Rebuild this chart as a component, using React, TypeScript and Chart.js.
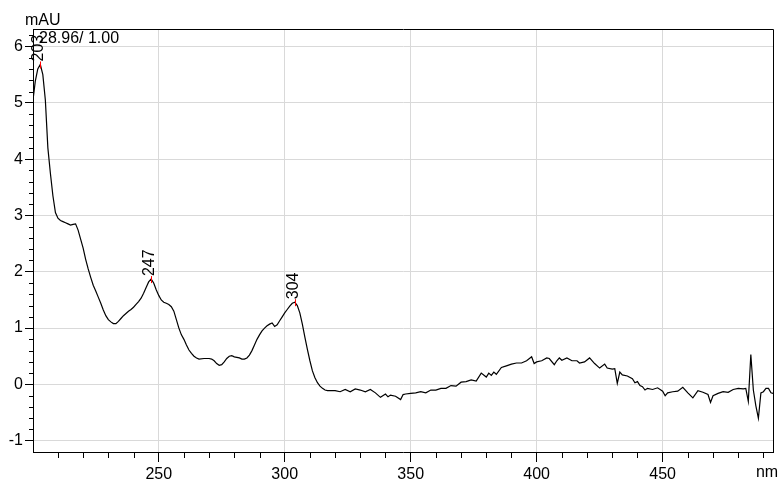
import { useEffect, useRef } from "react";
import { Chart, registerables } from "chart.js";

Chart.register(...registerables);

const wavelengths = [
  200.1, 201, 202, 203, 204, 205, 206, 207, 208, 209, 210, 211, 212, 213, 214, 215, 216, 217, 218, 219,
  220, 221, 222, 223, 224, 225, 226, 227, 228, 229, 230, 231, 232, 233, 234, 235, 236, 237, 238, 239,
  240, 241, 242, 243, 244, 245, 246, 247, 248, 249, 250, 251, 252, 253, 254, 255, 256, 257, 258, 259,
  260, 261, 262, 263, 264, 265, 266, 268, 270, 271, 272, 273, 274, 275, 276, 277, 278, 279, 280, 282,
  283, 284, 285, 286, 287, 288, 289, 290, 291, 292, 293, 294, 295, 296, 297, 298, 299, 300, 301, 302,
  303, 304, 305, 306, 307, 308, 309, 310, 311, 312, 313, 314, 315, 316, 317, 318, 320, 322, 324, 326,
  328, 330, 332, 334, 336, 338, 340, 341, 342, 344, 346, 347, 348, 350, 352, 354, 356, 358, 360, 362,
  364, 366, 368, 370, 372, 374, 376, 378, 380, 381, 382, 383, 384, 386, 388, 390, 392, 394, 396, 398,
  399, 400, 402, 404, 405, 407, 408, 409, 410, 412, 414, 416, 417, 419, 421, 423, 425, 427, 428, 430,
  431, 432, 433, 434, 436, 438, 439, 440, 441, 442, 443, 444, 446, 448, 450, 451, 452, 454, 456, 458,
  460, 462, 464, 466, 468, 469, 470, 472, 474, 476, 478, 480, 482, 483, 484, 485, 486, 487, 488, 489,
  490, 491, 492, 493, 493.8,
];

const absorbance = [
  5.05, 5.38, 5.6, 5.68, 5.5, 5.05, 4.2, 3.75, 3.35, 3.05, 2.95, 2.91, 2.89, 2.87, 2.85, 2.83, 2.84, 2.85, 2.74, 2.58,
  2.42, 2.22, 2.05, 1.9, 1.76, 1.66, 1.55, 1.44, 1.32, 1.22, 1.15, 1.11, 1.08, 1.08, 1.12, 1.17, 1.22, 1.26, 1.3, 1.33,
  1.37, 1.42, 1.47, 1.53, 1.62, 1.72, 1.82, 1.87, 1.8, 1.68, 1.58, 1.5, 1.46, 1.44, 1.42, 1.38, 1.3, 1.15, 1.0, 0.88,
  0.8, 0.7, 0.61, 0.55, 0.5, 0.47, 0.45, 0.46, 0.46, 0.45, 0.42, 0.37, 0.34, 0.35, 0.4, 0.46, 0.5, 0.51, 0.49, 0.47,
  0.45, 0.45, 0.47, 0.52, 0.6, 0.7, 0.8, 0.88, 0.95, 1.0, 1.04, 1.07, 1.09, 1.03, 1.06, 1.13, 1.2, 1.27, 1.33, 1.39,
  1.44, 1.46, 1.4, 1.27, 1.07, 0.84, 0.62, 0.42, 0.24, 0.12, 0.03, -0.03, -0.07, -0.1, -0.11, -0.11, -0.11, -0.13, -0.09, -0.13,
  -0.08, -0.1, -0.13, -0.09, -0.15, -0.23, -0.17, -0.22, -0.19, -0.21, -0.27, -0.18, -0.17, -0.16, -0.15, -0.13, -0.15, -0.1, -0.1, -0.07,
  -0.07, -0.02, -0.03, 0.04, 0.05, 0.08, 0.06, 0.2, 0.13, 0.2, 0.16, 0.22, 0.18, 0.3, 0.33, 0.36, 0.38, 0.38, 0.42, 0.49,
  0.37, 0.4, 0.42, 0.47, 0.46, 0.35, 0.42, 0.47, 0.43, 0.47, 0.42, 0.42, 0.38, 0.4, 0.47, 0.37, 0.29, 0.36, 0.29, 0.27,
  0.28, 0.02, 0.22, 0.17, 0.15, 0.1, 0.03, 0.05, -0.02, -0.04, -0.1, -0.07, -0.09, -0.06, -0.12, -0.2, -0.15, -0.13, -0.12, -0.05,
  -0.15, -0.24, -0.11, -0.14, -0.18, -0.32, -0.2, -0.16, -0.13, -0.14, -0.09, -0.07, -0.08, -0.07, -0.3, 0.53, -0.1, -0.38, -0.6, -0.15,
  -0.13, -0.07, -0.07, -0.15, -0.16,
];

const yTickValues = [-1, 0, 1, 2, 3, 4, 5, 6];
const xTickValues = [250, 300, 350, 400, 450];
const peakWavelengths = [203, 247, 304];
const peakLabels = ["203", "247", "304"];
const yUnit = "mAU";
const xUnit = "nm";
const headerText = "28.96/ 1.00";

const FONT = "'Liberation Sans', Arial, sans-serif";

export default function App() {
  const ref = useRef<HTMLCanvasElement | null>(null);

  useEffect(() => {
    if (!ref.current) return;
    const overlay = {
      id: "overlay",
      afterDraw(chart: any) {
        const { ctx, chartArea: a } = chart;
        const xs = chart.scales.x;
        const ys = chart.scales.y;
        ctx.save();
        ctx.strokeStyle = "#000";
        ctx.lineWidth = 1;
        ctx.beginPath();
        ctx.moveTo(Math.round(a.left) + 0.5, Math.round(a.top) + 0.5);
        ctx.lineTo(Math.round(a.right) + 0.5, Math.round(a.top) + 0.5);
        ctx.lineTo(Math.round(a.right) + 0.5, Math.round(a.bottom) + 0.5);
        ctx.stroke();
        ctx.beginPath();
        for (let i = -6; i <= 31; i++) {
          if (i % 5 === 0) continue;
          const v = i * 0.2;
          if (v < ys.min || v > ys.max) continue;
          const py = Math.round(ys.getPixelForValue(v)) + 0.5;
          ctx.moveTo(a.left - 4, py);
          ctx.lineTo(a.left, py);
        }
        for (let n = 210; n <= 490; n += 10) {
          if (n % 50 === 0) continue;
          const px = Math.round(xs.getPixelForValue(n)) + 0.5;
          ctx.moveTo(px, a.bottom);
          ctx.lineTo(px, a.bottom + 6);
        }
        ctx.stroke();
        ctx.fillStyle = "#000";
        ctx.font = "16px " + FONT;
        ctx.textAlign = "left";
        ctx.textBaseline = "alphabetic";
        ctx.fillText(yUnit, 25, 25);
        ctx.fillText(headerText, 39, 43);
        ctx.textAlign = "center";
        ctx.fillText(xUnit, 767, 477);
        peakWavelengths.forEach((w, i) => {
          const idx = wavelengths.indexOf(w);
          const px = xs.getPixelForValue(w);
          const py = ys.getPixelForValue(absorbance[idx]);
          ctx.strokeStyle = "#ff0000";
          ctx.beginPath();
          ctx.moveTo(Math.round(px) + 0.5, py - 3);
          ctx.lineTo(Math.round(px) + 0.5, py + 4);
          ctx.stroke();
          ctx.save();
          ctx.translate(px + 3, py - 3);
          ctx.rotate(-Math.PI / 2);
          ctx.textAlign = "left";
          ctx.textBaseline = "alphabetic";
          ctx.fillStyle = "#000";
          ctx.fillText(peakLabels[i], 0, 0);
          ctx.restore();
        });
        ctx.restore();
      },
    };

    const chart = new Chart(ref.current, {
      type: "line",
      data: {
        datasets: [
          {
            data: wavelengths.map((w, i) => ({ x: w, y: absorbance[i] })),
            borderColor: "#000",
            borderWidth: 1.2,
            pointRadius: 0,
            tension: 0,
            fill: false,
          },
        ],
      },
      options: {
        responsive: false,
        animation: false,
        events: [],
        layout: { padding: { top: 29, right: 6, left: 0, bottom: 0 } },
        plugins: { legend: { display: false }, tooltip: { enabled: false } },
        scales: {
          x: {
            type: "linear",
            min: 200.1,
            max: 493.8,
            afterBuildTicks: (s: any) => {
              s.ticks = xTickValues.map((v) => ({ value: v }));
            },
            afterFit: (s: any) => {
              s.height = 27;
            },
            grid: {
              color: "#d9d9d9",
              lineWidth: 1,
              tickColor: "#000",
              tickLength: 10,
              drawTicks: true,
            },
            border: { display: true, color: "#000", width: 1 },
            ticks: {
              color: "#000",
              font: { family: FONT, size: 16 },
              padding: 3,
              maxRotation: 0,
              autoSkip: false,
            },
          },
          y: {
            type: "linear",
            min: -1.2,
            max: 6.31,
            afterBuildTicks: (s: any) => {
              s.ticks = yTickValues.map((v) => ({ value: v }));
            },
            afterFit: (s: any) => {
              s.width = 33;
            },
            grid: {
              color: "#d9d9d9",
              lineWidth: 1,
              tickColor: "#000",
              tickLength: 8,
              drawTicks: true,
            },
            border: { display: true, color: "#000", width: 1 },
            ticks: {
              color: "#000",
              font: { family: FONT, size: 16 },
              padding: 2,
              autoSkip: false,
            },
          },
        },
      },
      plugins: [overlay],
    });
    return () => chart.destroy();
  }, []);

  return (
    <div style={{ position: "fixed", left: 0, top: 0, width: 779, height: 479, background: "#fff" }}>
      <canvas ref={ref} width={779} height={479} style={{ width: 779, height: 479, display: "block" }} />
    </div>
  );
}
